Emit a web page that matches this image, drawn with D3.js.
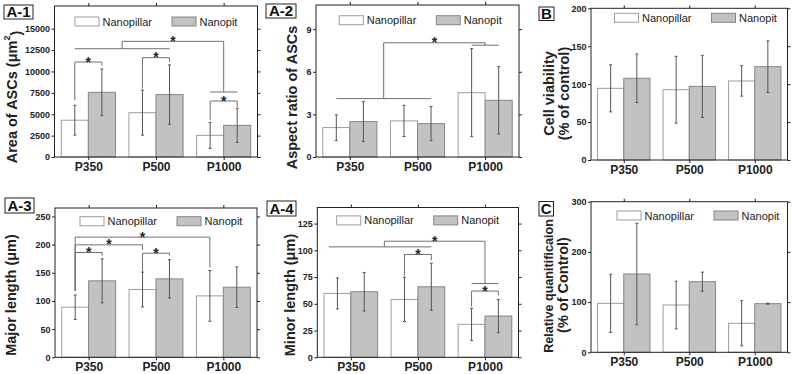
<!DOCTYPE html>
<html>
<head>
<meta charset="utf-8">
<script src="https://cdn.jsdelivr.net/npm/d3@7"></script>
<style>
  body { margin: 0; background: #fff; }
  svg { display: block; font-family: Arial, "Liberation Sans", sans-serif; }
</style>
</head>
<body>
<svg id="fig" width="794" height="374"></svg>
<script>
const categories = ["P350", "P500", "P1000"];
const seriesNames = ["Nanopillar", "Nanopit"];

// A-1 area of ASCs
const areaPillar = [4300, 5180, 2530];
const areaPillarErr = [1750, 2630, 1520];
const areaPit = [7560, 7290, 3700];
const areaPitErr = [2730, 3470, 2000];
const areaTicks = [0, 2500, 5000, 7500, 10000, 12500, 15000];

// A-2 aspect ratio
const aspectPillar = [2.07, 2.54, 4.53];
const aspectPillarErr = [0.9, 1.1, 3.1];
const aspectPit = [2.49, 2.35, 3.99];
const aspectPitErr = [1.4, 1.2, 2.37];
const aspectTicks = [0, 3, 6, 9];

// B cell viability
const viabPillar = [94.5, 92.7, 104.2];
const viabPillarErr = [31, 44, 20];
const viabPit = [107.7, 97.1, 123];
const viabPitErr = [32, 41, 34];
const viabTicks = [0, 50, 100, 150, 200];

// A-3 major length
const majorPillar = [89, 120.3, 109];
const majorPillarErr = [21.7, 31, 45];
const majorPit = [135.7, 139.2, 124.4];
const majorPitErr = [39, 34, 36];
const majorTicks = [0, 50, 100, 150, 200, 250];

// A-4 minor length
const minorPillar = [59.7, 54.1, 30.8];
const minorPillarErr = [14.5, 20.7, 15];
const minorPit = [61.3, 65.9, 38.6];
const minorPitErr = [18, 22, 15.5];
const minorTicks = [0, 25, 50, 75, 100, 125];

// C relative quantification
const quantPillar = [97.5, 94.2, 57.7];
const quantPillarErr = [58, 47.5, 45];
const quantPit = [156, 140.7, 96.9];
const quantPitErr = [101, 19, 1];
const quantTicks = [0, 100, 200, 300];

// significance brackets: x in category units (0 = P350), y in data units
const areaBrackets = [
  { x1: -0.2, x2: 0.2, top: 11100, y1: 6620, y2: 10710 },
  { x1: 0.8, x2: 1.2, top: 11610, y1: 7990, y2: 11100 },
  { x1: 1.8, x2: 2.2, top: 6545, y1: 4285, y2: 5840 },
  { x1: 0.5, x2: 2.0, top: 13520, y1: 12660, y2: 7600 }
];
const areaLines = [
  { x1: -0.2, x2: 1.2, y: 12660 },
  { x1: 1.8, x2: 2.2, y: 7600 }
];
const aspectBrackets = [
  { x1: 0.5, x2: 2.0, top: 8.04, y1: 4.11, y2: 7.87 }
];
const aspectLines = [
  { x1: -0.2, x2: 1.2, y: 4.11 },
  { x1: 1.8, x2: 2.2, y: 7.87 }
];
const majorBrackets = [
  { x1: -0.2, x2: 0.2, top: 186, y1: 117.9, y2: 180.7 },
  { x1: -0.2, x2: 0.8, top: 199.6, y1: 117.9, y2: 190.8 },
  { x1: -0.2, x2: 1.8, top: 213.3, y1: 117.9, y2: 159.4 },
  { x1: 0.8, x2: 1.2, top: 184.8, y1: 153.4, y2: 180.7 }
];
const minorBrackets = [
  { x1: 0.8, x2: 1.2, top: 96.1, y1: 76.2, y2: 90.8 },
  { x1: 1.8, x2: 2.2, top: 61.9, y1: 47.3, y2: 58.1 },
  { x1: 0.5, x2: 2.0, top: 108.5, y1: 103.2, y2: 69.0 }
];
const minorLines = [
  { x1: -0.33, x2: 1.2, y: 103.2 },
  { x1: 1.8, x2: 2.2, y: 69.0 }
];

const panels = [
  { label: "A-1", box: [4, 5, 29, 14], left: 54.5, right: 257.5, top: 6, bottom: 157, yMax: 17650,
    pillar: areaPillar, pillarErr: areaPillarErr, pit: areaPit, pitErr: areaPitErr, ticks: areaTicks,
    brackets: areaBrackets, lines: areaLines, legend: [20.5, 11],
    title: [{ x: 12, y: 97, text: "Area of ASCs (μm", sup: "2", after: ")" }] },
  { label: "A-2", box: [266, 4, 30, 14], left: 316, right: 519, top: 5, bottom: 157, yMax: 10.7,
    pillar: aspectPillar, pillarErr: aspectPillarErr, pit: aspectPit, pitErr: aspectPitErr, ticks: aspectTicks,
    brackets: aspectBrackets, lines: aspectLines, legend: [23.3, 10.7],
    title: [{ x: 291.5, y: 97.5, text: "Aspect ratio of ASCs" }] },
  { label: "B", box: [539, 7, 15, 13.5], left: 591, right: 787.5, top: 8.3, bottom: 160, yMax: 200,
    pillar: viabPillar, pillarErr: viabPillarErr, pit: viabPit, pitErr: viabPitErr, ticks: viabTicks,
    brackets: [], lines: [], legend: [23.5, 5],
    title: [{ x: 549, y: 93.5, text: "Cell viability" }, { x: 563.5, y: 93.5, text: "(% of control)" }] },
  { label: "A-3", box: [5, 198, 29, 15], left: 55, right: 257, top: 208, bottom: 357.3, yMax: 265,
    pillar: majorPillar, pillarErr: majorPillarErr, pit: majorPit, pitErr: majorPitErr, ticks: majorTicks,
    brackets: majorBrackets, lines: [], legend: [25, 8.7],
    title: [{ x: 10.5, y: 295, text: "Major length (μm)" }] },
  { label: "A-4", box: [267, 201, 29, 15], left: 317.3, right: 518.5, top: 207.5, bottom: 357.3, yMax: 140,
    pillar: minorPillar, pillarErr: minorPillarErr, pit: minorPit, pitErr: minorPitErr, ticks: minorTicks,
    brackets: minorBrackets, lines: minorLines, legend: [19.4, 8.4],
    title: [{ x: 290, y: 295, text: "Minor length (μm)" }] },
  { label: "C", box: [539, 201.5, 14.5, 14.5], left: 591, right: 787.5, top: 201.7, bottom: 352.3, yMax: 300,
    pillar: quantPillar, pillarErr: quantPillarErr, pit: quantPit, pitErr: quantPitErr, ticks: quantTicks,
    brackets: [], lines: [], legend: [26, 9.3],
    title: [{ x: 548.5, y: 286, text: "Relative quanitificaion", size: 12.6 }, { x: 562.5, y: 285, text: "(% of Control)" }] }
];

const svg = d3.select("#fig");
const bw = 0.4;
const fillFor = ["#ffffff", "#c2c2c2"];
const strokeFor = ["#9d9d9d", "#858585"];

panels.forEach(p => {
  const x = d3.scaleLinear().domain([-0.5, 2.5]).range([p.left, p.right]);
  const y = d3.scaleLinear().domain([0, p.yMax]).range([p.bottom, p.top]);
  const g = svg.append("g");

  const rows = categories.flatMap((c, i) => [
    { i, s: 0, v: p.pillar[i], e: p.pillarErr[i] },
    { i, s: 1, v: p.pit[i], e: p.pitErr[i] }
  ]);

  // bars
  g.selectAll("rect.bar")
    .data(rows)
    .join("rect")
    .attr("class", "bar")
    .attr("x", d => x(d.i - bw + d.s * bw))
    .attr("width", x(bw) - x(0))
    .attr("y", d => y(d.v))
    .attr("height", d => y(0) - y(d.v))
    .attr("fill", d => fillFor[d.s])
    .attr("stroke", d => strokeFor[d.s])
    .attr("stroke-width", 1);

  // error bars
  const cx = d => x(d.i - bw / 2 + d.s * bw);
  const err = g.selectAll("g.err").data(rows).join("g").attr("class", "err")
    .attr("stroke", "#555").attr("stroke-width", 1);
  err.append("line")
    .attr("x1", cx).attr("x2", cx)
    .attr("y1", d => y(d.v - d.e)).attr("y2", d => y(d.v + d.e));
  err.append("line")
    .attr("x1", d => cx(d) - 1.5).attr("x2", d => cx(d) + 1.5)
    .attr("y1", d => y(d.v + d.e)).attr("y2", d => y(d.v + d.e));
  err.append("line")
    .attr("x1", d => cx(d) - 1.5).attr("x2", d => cx(d) + 1.5)
    .attr("y1", d => y(d.v - d.e)).attr("y2", d => y(d.v - d.e));

  // brackets
  g.selectAll("path.brk")
    .data(p.brackets)
    .join("path")
    .attr("class", "brk")
    .attr("fill", "none")
    .attr("stroke", "#707070")
    .attr("d", d => `M${x(d.x1)},${y(d.y1)}V${y(d.top)}H${x(d.x2)}V${y(d.y2)}`);
  g.selectAll("line.sig")
    .data(p.lines)
    .join("line")
    .attr("class", "sig")
    .attr("stroke", "#707070")
    .attr("x1", d => x(d.x1)).attr("x2", d => x(d.x2))
    .attr("y1", d => y(d.y)).attr("y2", d => y(d.y));
  g.selectAll("text.star")
    .data(p.brackets)
    .join("text")
    .attr("class", "star")
    .attr("x", d => x((d.x1 + d.x2) / 2))
    .attr("y", d => y(d.top) + 4.5)
    .attr("text-anchor", "middle")
    .style("font-size", "14px")
    .style("font-weight", "bold")
    .attr("fill", "#222")
    .text("*");

  // axes
  const left = g.append("g")
    .attr("transform", `translate(${p.left},0)`)
    .call(d3.axisLeft(y).tickValues(p.ticks).tickSize(3).tickPadding(1.5).tickFormat(d3.format("")));
  left.selectAll("text").style("font-size", "9px").style("font-weight", "bold").attr("fill", "#222");
  const right = g.append("g")
    .attr("transform", `translate(${p.right},0)`)
    .call(d3.axisRight(y).tickValues(p.ticks).tickSize(3).tickFormat(""));
  const bottom = g.append("g")
    .attr("transform", `translate(0,${p.bottom})`)
    .call(d3.axisBottom(x).tickValues([0, 1, 2]).tickFormat(i => categories[i]).tickSize(3).tickPadding(2.5));
  bottom.selectAll("text").style("font-size", "12px").style("font-weight", "bold").attr("fill", "#222");
  const topAx = g.append("g")
    .attr("transform", `translate(0,${p.top})`)
    .call(d3.axisTop(x).tickValues([0, 1, 2]).tickSize(3).tickFormat(""));
  [left, right, bottom, topAx].forEach(a => {
    a.select(".domain").remove();
    a.selectAll(".tick line").attr("stroke", "#222");
  });

  // frame
  g.append("rect")
    .attr("x", p.left).attr("y", p.top)
    .attr("width", p.right - p.left).attr("height", p.bottom - p.top)
    .attr("fill", "none").attr("stroke", "#222").attr("stroke-width", 1);

  // legend
  const lg = g.append("g").attr("transform", `translate(${p.left + p.legend[0]},${p.top + p.legend[1]})`);
  seriesNames.forEach((name, k) => {
    lg.append("rect")
      .attr("x", k * 97).attr("y", 0).attr("width", 24).attr("height", 9)
      .attr("fill", fillFor[k]).attr("stroke", strokeFor[k]);
    lg.append("text")
      .attr("x", k * 97 + 27.5).attr("y", 8.5)
      .style("font-size", "11px").attr("fill", "#222")
      .text(name);
  });

  // y title
  p.title.forEach(t => {
    const tx = g.append("text")
      .attr("transform", `translate(${t.x},${t.y}) rotate(-90)`)
      .attr("text-anchor", "middle")
      .attr("dy", "0.35em")
      .style("font-size", (t.size || 14.5) + "px")
      .style("font-weight", "bold")
      .attr("fill", "#222")
      .text(t.text);
    if (t.sup) {
      tx.append("tspan").attr("dy", "-0.75em").style("font-size", "9px").text(t.sup);
      tx.append("tspan").attr("dy", "0.75em").text(t.after);
    }
  });

  // panel label
  const [bx, by, bwid, bh] = p.box;
  g.append("rect")
    .attr("x", bx).attr("y", by).attr("width", bwid).attr("height", bh)
    .attr("fill", "#fff").attr("stroke", "#222").attr("stroke-width", 1);
  g.append("text")
    .attr("x", bx + bwid / 2).attr("y", by + bh - 2)
    .attr("text-anchor", "middle")
    .style("font-size", "15px").style("font-weight", "bold")
    .attr("fill", "#111")
    .text(p.label);
});
</script>
</body>
</html>
